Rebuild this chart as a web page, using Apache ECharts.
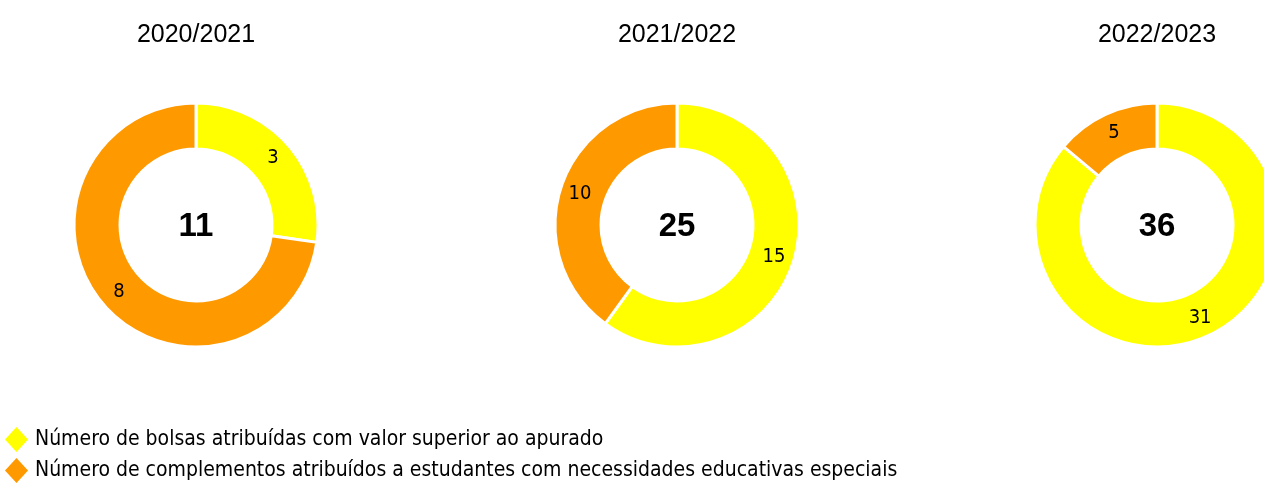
<!DOCTYPE html>
<html>
<head>
<meta charset="utf-8">
<script src="https://cdn.jsdelivr.net/npm/echarts@6/dist/echarts.min.js"></script>
<style>
  html, body { margin: 0; padding: 0; background: #fff; }
  #chart { width: 1264px; height: 484px; }
</style>
</head>
<body>
<div id="chart"></div>
<script>
// School years shown, one donut each
const years = ['2020/2021', '2021/2022', '2022/2023'];
// Category names (legend)
const categories = [
  'Número de bolsas atribuídas com valor superior ao apurado',
  'Número de complementos atribuídos a estudantes com necessidades educativas especiais'
];
// Values per year
const bolsasSuperior = [3, 15, 31];
const complementosNEE = [8, 10, 5];

const colors = ['#FFFF00', '#FF9900'];
const centersX = [196, 677, 1157];
const centerY = 225;
const narrowFont = '"DejaVu Sans Condensed", "Liberation Sans", sans-serif';
const titleFont = '"Liberation Sans", Arial, sans-serif';

const chart = echarts.init(document.getElementById('chart'), null, { renderer: 'canvas' });

const titles = [];
const series = [];
years.forEach((y, i) => {
  const total = bolsasSuperior[i] + complementosNEE[i];
  // year heading above each donut
  titles.push({
    text: y,
    left: centersX[i], top: 23, padding: 0,
    textAlign: 'center',
    textStyle: { fontFamily: titleFont, fontSize: 25, fontWeight: 'normal', color: '#000' }
  });
  // total in the hole of the donut
  titles.push({
    text: String(total),
    left: centersX[i], top: centerY - 15, padding: 0,
    textAlign: 'center',
    textStyle: { fontFamily: titleFont, fontSize: 33, fontWeight: 'bold', color: '#000' }
  });
  series.push({
    type: 'pie',
    center: [centersX[i], centerY],
    radius: [76, 122],
    startAngle: 90,
    clockwise: true,
    avoidLabelOverlap: false,
    animation: false,
    itemStyle: { borderColor: '#fff', borderWidth: 3 },
    label: {
      show: true, position: 'inside',
      fontFamily: narrowFont, fontSize: 20, color: '#000',
      formatter: '{c}'
    },
    labelLine: { show: false },
    emphasis: { disabled: true },
    data: [
      { name: categories[0], value: bolsasSuperior[i], itemStyle: { color: colors[0] } },
      { name: categories[1], value: complementosNEE[i], itemStyle: { color: colors[1] } }
    ]
  });
});

chart.setOption({
  animation: false,
  title: titles,
  color: colors,
  legend: {
    orient: 'vertical',
    left: 5, top: 427,
    height: 90,
    padding: 0,
    icon: 'diamond',
    itemWidth: 23, itemHeight: 25,
    itemGap: 6,
    selectedMode: false,
    itemStyle: { borderWidth: 0 },
    textStyle: { fontFamily: narrowFont, fontSize: 21, color: '#000', padding: [0, 0, 0, 2] },
    data: categories
  },
  series: series
});
</script>
</body>
</html>
